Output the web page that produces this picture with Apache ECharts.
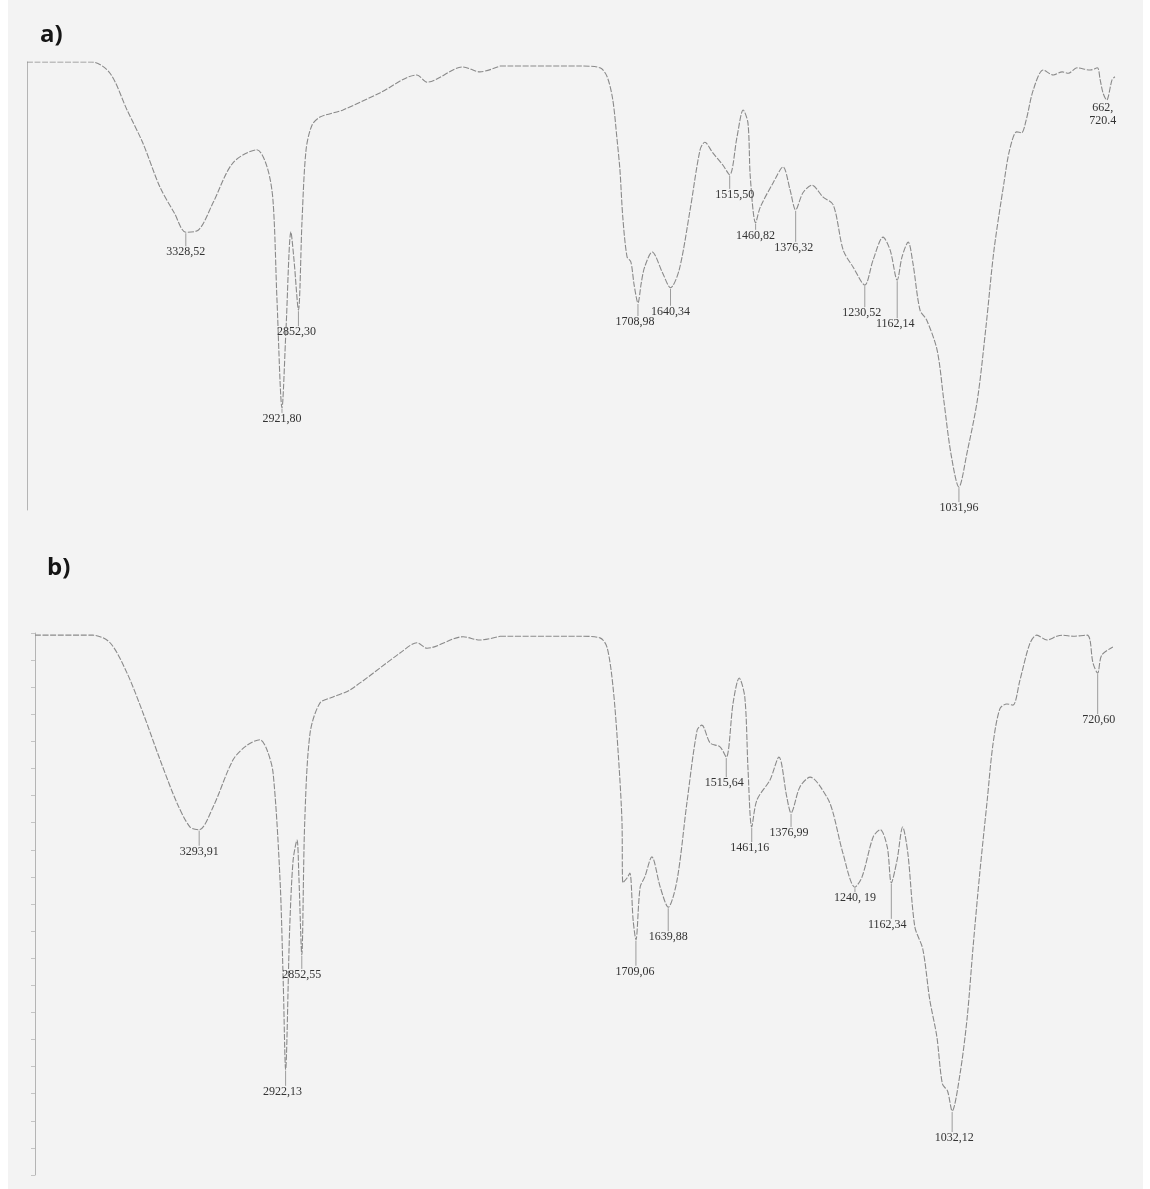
<!DOCTYPE html>
<html>
<head>
<meta charset="utf-8">
<script src="https://cdn.jsdelivr.net/npm/echarts@6/dist/echarts.min.js"></script>
<style>
  html, body { margin: 0; padding: 0; background: #ffffff; }
  #chart { position: absolute; left: 8px; top: 0; width: 1135px; height: 1189px; background: #f3f3f3; }
</style>
</head>
<body>
<div id="chart"></div>
<script>
// FTIR spectra: wavenumber (cm-1) and transmittance (%T)
// Spectrum a)
const wnA = [4000, 3725, 3649, 3577, 3510, 3438, 3377, 3328.52, 3275, 3214, 3129, 3028, 2985, 2960, 2943, 2921.8,
  2905, 2884, 2871, 2852.3, 2837, 2820, 2795, 2761, 2664, 2508, 2351, 2309, 2157, 2085, 2000,
  1831, 1789, 1774, 1762, 1753, 1747, 1741, 1732, 1724, 1717, 1708.98, 1702, 1695, 1679, 1657, 1640.34, 1622,
  1599, 1578, 1568, 1551, 1530, 1515.5, 1500, 1487, 1477, 1472, 1460.82, 1451, 1424, 1403, 1388, 1376.32,
  1361, 1342, 1319, 1297, 1276, 1255, 1230.52, 1213, 1192, 1177, 1162.14, 1152, 1139, 1129, 1114, 1100,
  1078, 1064, 1049, 1031.96, 1015, 993, 975, 958, 937, 925, 910, 900, 890, 875, 854, 833, 814, 801, 783,
  755, 740, 734, 728, 720.4, 709, 703];
const tA = [100, 100, 97.5, 89.3, 81.9, 72.1, 66.3, 62.0, 62.5, 68.5, 77.5, 80.4, 76.6, 69.2, 46.9, 22.8,
  40.2, 62.1, 55.8, 44.6, 64.7, 80.4, 85.9, 87.7, 89.3, 93.1, 97.1, 95.5, 98.9, 97.8, 99.1,
  99.1, 98.7, 96.7, 91.5, 82.6, 75.9, 65.4, 56.5, 55.4, 50.2, 46.2, 50.7, 54.2, 57.6, 52.9, 49.6, 53.6,
  67.0, 80.4, 82.1, 79.7, 77.0, 74.8, 83.3, 89.3, 86.4, 74.3, 64.1, 67.6, 73.0, 76.6, 71.4, 67.0,
  70.8, 72.5, 69.9, 68.1, 58.0, 54.2, 50.2, 55.8, 60.9, 58.0, 51.3, 56.5, 59.8, 55.1, 44.6, 42.4,
  35.7, 24.6, 12.7, 5.1, 12.7, 24.6, 40.8, 58.0, 73.0, 80.4, 84.4, 84.2, 87.1, 93.8, 98.2, 97.1, 97.8, 97.5, 98.7,
  98.2, 98.7, 96.0, 93.1, 91.5, 96.0, 96.7];

// Spectrum b)
const wnB = [4000, 3751, 3677, 3604, 3535, 3462, 3389, 3333, 3293.91, 3234, 3148, 3088, 3032, 3002, 2976, 2946,
  2932, 2922.13, 2905, 2890, 2873, 2865, 2852.55, 2840, 2817, 2774, 2718, 2645, 2430, 2357, 2314, 2159, 2086, 2000,
  1829, 1786, 1771, 1758, 1747, 1739, 1737, 1728, 1722, 1715, 1709.06, 1700, 1690, 1675, 1657, 1639.88, 1621,
  1600, 1578, 1568, 1550, 1529, 1515.64, 1501, 1488, 1476, 1469, 1461.16, 1450, 1422, 1403, 1386, 1376.99,
  1358, 1336, 1300, 1287, 1266, 1240.19, 1225, 1201, 1186, 1171, 1162.34, 1150, 1138, 1127, 1112, 1095,
  1080, 1065, 1053, 1042, 1032.12, 1015, 1000, 987, 973, 957, 945, 930, 915, 902, 887, 866, 851, 829, 808,
  795, 773, 743, 737, 731, 720.6, 712, 688];
const tB = [99.6, 99.6, 98.2, 92.6, 85.2, 76.6, 68.6, 64.2, 63.7, 67.9, 76.6, 79.3, 80.3, 78.4, 74.2, 54.4,
  35.0, 19.4, 45.0, 58.0, 61.8, 55.0, 40.6, 65.0, 81.5, 87.1, 88.2, 89.5, 96.3, 98.2, 97.2, 99.3, 98.7, 99.4,
  99.4, 99.1, 97.4, 90.0, 77.9, 65.5, 53.9, 54.8, 55.7, 47.0, 43.4, 53.1, 55.0, 58.7, 53.1, 49.4, 54.4,
  68.6, 82.1, 83.0, 79.7, 79.0, 77.1, 87.1, 91.7, 88.2, 74.7, 64.2, 69.2, 72.9, 77.1, 69.7, 66.8,
  71.6, 73.4, 69.7, 66.8, 59.4, 53.1, 55.0, 62.4, 63.7, 60.5, 53.9, 58.1, 64.2, 59.4, 45.8, 41.7,
  32.3, 25.6, 16.8, 15.5, 11.8, 18.8, 29.0, 42.4, 55.7, 69.2, 79.3, 86.0, 86.9, 86.7, 91.3, 98.0, 99.6, 98.7, 99.4,
  99.6, 99.4, 99.6, 98.7, 94.6, 92.6, 95.9, 97.4];

// Marked band positions and their printed labels
const peakWnA = [3328.52, 2921.8, 2852.3, 1708.98, 1640.34, 1515.5, 1460.82, 1376.32, 1230.52, 1162.14, 1031.96, 720.4];
const peakTextA = ['3328,52', '2921,80', '2852,30', '1708,98', '1640,34', '1515,50', '1460,82', '1376,32', '1230,52', '1162,14', '1031,96', '662,\n720.4'];
const peakWnB = [3293.91, 2922.13, 2852.55, 1709.06, 1639.88, 1515.64, 1461.16, 1376.99, 1240.19, 1162.34, 1032.12, 720.6];
const peakTextB = ['3293,91', '2922,13', '2852,55', '1709,06', '1639,88', '1515,64', '1461,16', '1376,99', '1240, 19', '1162,34', '1032,12', '720,60'];

// Label placement (pixels below the band minimum, horizontal nudge)
const dropA = [20, 11, 22, 19, 24, 20, 13, 38, 28, 44, 21, 14];
const shiftA = [0, 0, -2, -3, 0, 5, 0, -2, -3, -2, 0, -4];
const dropB = [22, 22, 20, 32, 30, 26, 21, 20, 11, 42, 27, 47];
const shiftB = [0, -3, 0, -1, 0, -2, -2, -2, 0, -4, 2, 1];

const LINE = '#8a8a8a';

function segment(wn, t, lo, hi) {
  const out = [];
  for (let i = 0; i < wn.length; i++) {
    if (wn[i] >= lo && wn[i] <= hi) out.push([wn[i], t[i]]);
  }
  return out;
}

function curve(wn, t, lo, hi, axisIdx) {
  return {
    type: 'line', xAxisIndex: axisIdx, yAxisIndex: axisIdx,
    data: segment(wn, t, lo, hi),
    showSymbol: false, smooth: 0.3, silent: true,
    lineStyle: { color: LINE, width: 1.1, type: [6, 1.6] }
  };
}

function peaks(peakWn, texts, drops, shifts, wn, t, lo, hi, axisIdx) {
  const data = [];
  peakWn.forEach((v, i) => {
    if (v >= lo && v <= hi) data.push([v, t[wn.indexOf(v)], i]);
  });
  return {
    type: 'custom', xAxisIndex: axisIdx, yAxisIndex: axisIdx, data, silent: true, z: 5,
    renderItem(params, api) {
      const i = api.value(2);
      const p = api.coord([api.value(0), api.value(1)]);
      const lines = texts[i].split('\n').length;
      const top = p[1] + drops[i] - lines * 6;
      const children = [];
      if (top > p[1] + 2) {
        children.push({ type: 'line', shape: { x1: p[0], y1: p[1] + 1, x2: p[0], y2: top },
          style: { stroke: '#9c9c9c', lineWidth: 1 } });
      }
      children.push({ type: 'text', x: p[0] + shifts[i], y: p[1] + drops[i],
        style: { text: texts[i], fill: '#333333', font: '12px "Liberation Serif"',
          align: 'center', verticalAlign: 'middle', textAlign: 'center', textVerticalAlign: 'middle', lineHeight: 13 } });
      return { type: 'group', children };
    }
  };
}

const grids = [
  { left: 19, top: 62, width: 473, height: 448 },    // a) 4000-2000
  { left: 492, top: 62, width: 640, height: 448 },   // a) 2000-650
  { left: 27, top: 633, width: 465, height: 542 },   // b) 4000-2000
  { left: 492, top: 633, width: 640, height: 542 }   // b) 2000-630
];

const xRanges = [[2000, 4000], [650, 2000], [2000, 4000], [630, 2000]];
const xAxes = xRanges.map((r, i) => ({
  type: 'value', gridIndex: i, min: r[0], max: r[1], inverse: true, show: false
}));

const yAxes = grids.map((g, i) => ({
  type: 'value', gridIndex: i, min: 0, max: 100, interval: 5,
  show: i === 0 || i === 2,
  axisLine: { show: i === 0 || i === 2, lineStyle: { color: '#b4b4b4', width: 1 } },
  axisTick: { show: i === 2, length: 4, lineStyle: { color: '#c4c4c4' } },
  axisLabel: { show: false },
  splitLine: { show: false }
}));

const chart = echarts.init(document.getElementById('chart'), null, { renderer: 'canvas' });
chart.setOption({
  animation: false,
  backgroundColor: '#f3f3f3',
  title: [
    { text: 'a)', left: 27, top: 18, textStyle: { fontSize: 24, fontWeight: 'bold', fontFamily: 'Open Sans', color: '#151515' } },
    { text: 'b)', left: 34, top: 551, textStyle: { fontSize: 24, fontWeight: 'bold', fontFamily: 'Open Sans', color: '#151515' } }
  ],
  grid: grids,
  xAxis: xAxes,
  yAxis: yAxes,
  series: [
    curve(wnA, tA, 2000, 4000, 0),
    curve(wnA, tA, 0, 2000, 1),
    curve(wnB, tB, 2000, 4000, 2),
    curve(wnB, tB, 0, 2000, 3),
    peaks(peakWnA, peakTextA, dropA, shiftA, wnA, tA, 2000, 4000, 0),
    peaks(peakWnA, peakTextA, dropA, shiftA, wnA, tA, 0, 2000, 1),
    peaks(peakWnB, peakTextB, dropB, shiftB, wnB, tB, 2000, 4000, 2),
    peaks(peakWnB, peakTextB, dropB, shiftB, wnB, tB, 0, 2000, 3)
  ]
});
</script>
</body>
</html>
